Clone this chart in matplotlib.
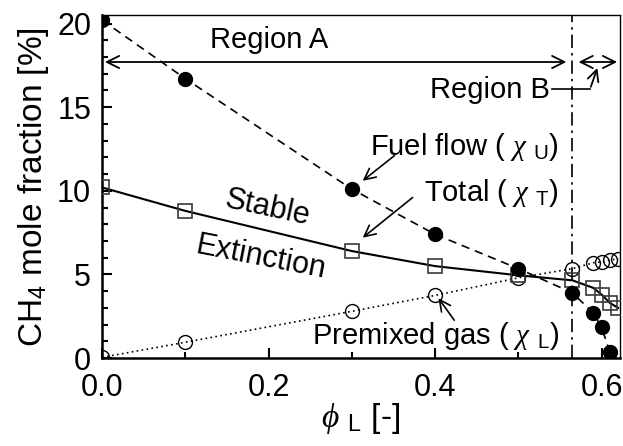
import numpy as np
import matplotlib
matplotlib.use("Agg")
import matplotlib.pyplot as plt
from matplotlib.ticker import MultipleLocator

plt.rcParams['font.family'] = ['Liberation Sans', 'DejaVu Sans']
plt.rcParams['mathtext.fontset'] = 'custom'
plt.rcParams['mathtext.rm'] = 'Liberation Sans'
plt.rcParams['mathtext.it'] = 'Liberation Serif:italic'

# equivalence ratio of the premixed stream
phi_u = [0.0, 0.1, 0.3, 0.4, 0.5, 0.565, 0.59, 0.60, 0.61]
chi_u = [20.2, 16.7, 10.1, 7.4, 5.35, 3.9, 2.7, 1.85, 0.35]   # fuel flow

phi_t = [0.0, 0.1, 0.3, 0.4, 0.5, 0.565, 0.59, 0.60, 0.61, 0.62]
chi_t = [10.2, 8.8, 6.4, 5.5, 4.95, 4.65, 4.2, 3.8, 3.3, 3.0]   # total

phi_l = [0.0, 0.1, 0.3, 0.4, 0.5, 0.565, 0.59, 0.60, 0.61, 0.62]
chi_l = [0.05, 0.95, 2.8, 3.75, 4.8, 5.35, 5.7, 5.75, 5.85, 5.95]  # premixed gas

phi_b = 0.565   # A/B boundary
arrow_y = 17.7

fig = plt.figure(figsize=(6.23, 4.46), dpi=100)
ax = fig.add_axes([0.164, 0.197, 0.831, 0.769])

ax.plot(phi_l, chi_l, ls=(0, (1, 2)), lw=1.2, color='k', marker='o', ms=10,
        mfc='none', mec='k', mew=1.0, zorder=3)
ax.plot(phi_t, chi_t, ls='-', lw=1.5, color='k', marker='s', ms=10,
        mfc='none', mec='#3a3a3a', mew=1.2, zorder=3)
ax.plot(phi_u, chi_u, ls=(0, (5, 3.5)), lw=1.2, color='k', marker='o', ms=10,
        mfc='k', mec='k', zorder=4)

ax.axvline(phi_b, color='k', lw=1.2, ls=(0, (8, 3, 1.5, 3)))

ax.set_xlim(0, 0.622)
ax.set_ylim(0, 20.5)
ax.xaxis.set_major_locator(MultipleLocator(0.2))
ax.xaxis.set_minor_locator(MultipleLocator(0.1))
ax.yaxis.set_major_locator(MultipleLocator(5))
ax.yaxis.set_minor_locator(MultipleLocator(1))
ax.set_xticks([0.0, 0.2, 0.4, 0.6])
ax.set_xticklabels(['0.0', '0.2', '0.4', '0.6'])
ax.tick_params(which='both', direction='in', top=False, right=False,
               labelsize=22, width=1.5)
ax.tick_params(which='major', length=7)
ax.tick_params(which='minor', length=4)
ax.tick_params(axis='x', which='major', pad=11)
ax.tick_params(axis='y', which='major', pad=8)
for s in ['left', 'bottom']:
    ax.spines[s].set_linewidth(1.8)
for s in ['top', 'right']:
    ax.spines[s].set_linewidth(1.0)

ax.set_xlabel(r'$\phi$ $_{\mathrm{L}}$ [-]', fontsize=24, labelpad=-2)
ax.set_ylabel(r'CH$_4$ mole fraction [%]', fontsize=24, labelpad=4)

# region arrows
arw = dict(arrowstyle='<->', color='k', lw=1.3, mutation_scale=22)
ax.annotate('', xy=(0, arrow_y), xytext=(phi_b - 0.004, arrow_y), arrowprops=arw)
ax.annotate('', xy=(phi_b + 0.004, arrow_y), xytext=(0.622, arrow_y), arrowprops=arw)
ax.text(0.2, 19.0, 'Region A', fontsize=21, ha='center', va='center')
ax.text(0.538, 16.0, 'Region B', fontsize=21, ha='right', va='center')
ax.plot([0.541, 0.586], [16.06, 16.06], color='k', lw=1.2)
ax.annotate('', xy=(0.596, 17.5), xytext=(0.586, 16.06),
            arrowprops=dict(arrowstyle='->', color='k', lw=1.3, mutation_scale=20))

# curve labels and their pointers
tip = dict(arrowstyle='->', color='k', lw=1.2, mutation_scale=20, shrinkA=0, shrinkB=0)
ax.text(0.549, 12.6, r'Fuel flow ( $\chi$ $_{\mathrm{U}}$)', fontsize=21, ha='right', va='center')
ax.annotate('', xy=(0.313, 10.6), xytext=(0.351, 12.1), arrowprops=tip)
ax.text(0.549, 9.9, r'Total ( $\chi$ $_{\mathrm{T}}$)', fontsize=21, ha='right', va='center')
ax.annotate('', xy=(0.313, 7.2), xytext=(0.373, 9.6), arrowprops=tip)
ax.text(0.549, 1.35, r'Premixed gas ( $\chi$ $_{\mathrm{L}}$)', fontsize=21, ha='right', va='center')
ax.annotate('', xy=(0.404, 3.58), xytext=(0.423, 2.27), arrowprops=tip)

ax.text(0.199, 8.95, 'Stable', fontsize=22, ha='center', va='center', rotation=-12)
ax.text(0.19, 6.0, 'Extinction', fontsize=22, ha='center', va='center', rotation=-11)

fig.savefig('out.png', dpi=100)
